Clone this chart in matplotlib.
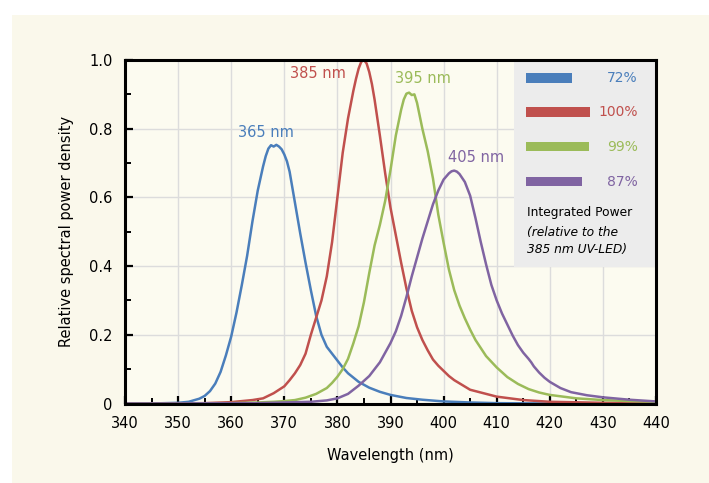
import matplotlib
matplotlib.use("Agg")
import matplotlib.pyplot as plt
from matplotlib.patches import Rectangle
from matplotlib.ticker import MultipleLocator

# ---- data ----
wl_365 = [340, 345, 350, 352, 354, 355, 356, 357, 358, 359, 360, 361, 362, 363,
          364, 365, 366, 366.5, 367, 367.5, 368, 368.5, 369, 369.5, 370, 370.5,
          371, 372, 373, 374, 375, 376, 377, 378, 379, 380, 381, 382, 384, 386,
          388, 390, 393, 396, 400, 405, 410, 420, 440]
spd_365 = [0, 0, 0.002, 0.005, 0.014, 0.022, 0.036, 0.058, 0.092, 0.14, 0.195, 0.265,
           0.345, 0.43, 0.53, 0.62, 0.69, 0.72, 0.742, 0.752, 0.748, 0.753, 0.748,
           0.74, 0.725, 0.705, 0.675, 0.585, 0.495, 0.41, 0.33, 0.255, 0.2, 0.165,
           0.145, 0.125, 0.105, 0.088, 0.063, 0.046, 0.034, 0.025, 0.016, 0.011,
           0.006, 0.003, 0.001, 0, 0]

wl_385 = [340, 345, 355, 360, 362, 364, 366, 368, 370, 371, 372, 373, 374, 375,
          376, 377, 378, 379, 380, 381, 382, 383, 383.5, 384, 384.5, 385, 385.5,
          386, 386.5, 387, 388, 389, 390, 391, 392, 393, 394, 395, 396, 397, 398,
          399, 400, 401, 402, 405, 410, 415, 420, 430, 440]
spd_385 = [0, 0, 0.001, 0.004, 0.007, 0.01, 0.015, 0.03, 0.05, 0.068, 0.088, 0.112,
           0.145, 0.2, 0.25, 0.3, 0.37, 0.47, 0.6, 0.73, 0.83, 0.91, 0.945, 0.975,
           0.995, 1.0, 0.99, 0.965, 0.93, 0.885, 0.78, 0.67, 0.57, 0.49, 0.41, 0.335,
           0.27, 0.222, 0.185, 0.155, 0.128, 0.11, 0.095, 0.08, 0.068, 0.04, 0.02,
           0.01, 0.005, 0.002, 0.001]

wl_395 = [340, 345, 360, 365, 368, 370, 372, 374, 376, 378, 379, 380, 381, 382, 383,
          384, 385, 386, 387, 388, 389, 390, 391, 392, 392.5, 393, 393.5, 394, 394.5,
          395, 396, 397, 398, 399, 400, 401, 402, 403, 404, 405, 406, 408, 410, 412,
          414, 416, 418, 420, 425, 430, 435, 440]
spd_395 = [0, 0, 0.001, 0.003, 0.005, 0.007, 0.01, 0.017, 0.028, 0.045, 0.06, 0.078,
           0.1, 0.13, 0.175, 0.225, 0.295, 0.38, 0.46, 0.52, 0.59, 0.68, 0.78, 0.855,
           0.885, 0.902, 0.905, 0.898, 0.9, 0.875, 0.8, 0.735, 0.655, 0.55, 0.468,
           0.39, 0.33, 0.285, 0.248, 0.215, 0.185, 0.138, 0.105, 0.077, 0.057, 0.042,
           0.032, 0.025, 0.015, 0.01, 0.007, 0.005]

wl_405 = [340, 345, 365, 370, 375, 378, 380, 382, 384, 386, 388, 390, 391, 392, 393,
          394, 395, 396, 397, 398, 399, 400, 401, 401.5, 402, 402.5, 403, 404, 405,
          406, 407, 408, 409, 410, 411, 412, 413, 414, 415, 416, 416.5, 417, 418,
          419, 420, 422, 424, 427, 430, 435, 440]
spd_405 = [0, 0, 0.001, 0.003, 0.005, 0.009, 0.015, 0.028, 0.052, 0.08, 0.12, 0.176,
           0.21, 0.255, 0.31, 0.37, 0.425, 0.48, 0.53, 0.58, 0.62, 0.652, 0.67,
           0.676, 0.678, 0.675, 0.668, 0.645, 0.605, 0.54, 0.47, 0.405, 0.345, 0.3,
           0.262, 0.23, 0.198, 0.17, 0.148, 0.13, 0.12, 0.108, 0.09, 0.075, 0.063,
           0.045, 0.033, 0.024, 0.018, 0.011, 0.006]

series = [
    ("365 nm", wl_365, spd_365, "#4a7ebb"),
    ("385 nm", wl_385, spd_385, "#c0504d"),
    ("395 nm", wl_395, spd_395, "#9bbb59"),
    ("405 nm", wl_405, spd_405, "#8064a2"),
]
integrated_power = [72, 100, 99, 87]

x_ticks = list(range(340, 441, 10))
y_ticks = [0, 0.2, 0.4, 0.6, 0.8, 1.0]
y_tick_labels = ["0", "0.2", "0.4", "0.6", "0.8", "1.0"]

# peak label anchors (data coords)
label_pos = [(366.5, 0.79), (376.3, 0.96), (396.1, 0.945), (406.1, 0.715)]

plt.rcParams["font.family"] = ["DejaVu Sans"]

fig = plt.figure(figsize=(7.09, 4.83), dpi=100)
fig.patch.set_facecolor("white")
fig.patches.append(Rectangle((12 / 709, 0), 1 - 12 / 709, 1 - 15 / 483,
                             transform=fig.transFigure, facecolor="#faf8eb",
                             edgecolor="none", zorder=-10))

ax = fig.add_axes([125 / 709, 79.5 / 483, 531 / 709, 343.5 / 483])
ax.set_facecolor("#fcfbf0")

for (name, wl, spd, col), (lx, ly) in zip(series, label_pos):
    ax.plot(wl, spd, color=col, lw=1.8, zorder=3, solid_joinstyle="round")
    ax.text(lx, ly, name, color=col, fontsize=10.5, ha="center", va="center",
            zorder=4)

ax.set_xlim(340, 440)
ax.set_ylim(0, 1.0)
ax.set_xticks(x_ticks)
ax.set_yticks(y_ticks)
ax.set_yticklabels(y_tick_labels)
ax.xaxis.set_minor_locator(MultipleLocator(5))
ax.yaxis.set_minor_locator(MultipleLocator(0.1))
ax.grid(True, which="major", color="#dcdcdc", lw=1.0, zorder=0)
ax.set_axisbelow(True)
ax.tick_params(which="both", direction="in", colors="black", labelsize=10.5,
               top=False, right=False)
ax.tick_params(which="major", length=6, width=1.6, pad=9)
ax.tick_params(which="minor", length=4, width=1.4)
for s in ax.spines.values():
    s.set_linewidth(2.2)
    s.set_zorder(5)

ax.set_xlabel("Wavelength (nm)", fontsize=10.5, labelpad=12)
ax.set_ylabel("Relative spectral power density", fontsize=10.5, labelpad=11)

# legend panel
leg = ax.inset_axes([389 / 531, 136.5 / 343.5, 142 / 531, 207 / 343.5], zorder=4)
leg.set_facecolor("#ececec")
for s in leg.spines.values():
    s.set_visible(False)
leg.set_xticks([])
leg.set_yticks([])
leg.set_xlim(0, 142)
leg.set_ylim(207, 0)
bar_y = [18, 52, 86.7, 121.7]
for (name, wl, spd, col), pct, by in zip(series, integrated_power, bar_y):
    leg.barh(by, pct * 0.64, left=12, height=9.5, color=col)
    leg.text(124, by, f"{pct}%", color=col, fontsize=10, ha="right", va="center")
leg.text(13, 153, "Integrated Power", fontsize=8.8, ha="left", va="center")
leg.text(13, 172.5, "(relative to the", fontsize=8.8, style="italic",
         ha="left", va="center")
leg.text(13, 189.5, "385 nm UV-LED)", fontsize=8.8, style="italic",
         ha="left", va="center")

fig.savefig("out.png", dpi=100)
